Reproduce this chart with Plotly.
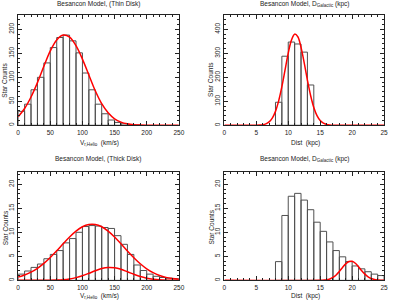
import plotly.graph_objects as go

W, H = 393, 303

# ---------------- data ----------------
# Top-left: thin disk radial velocity histogram (10 km/s bins, left edges)
tl_bins = [0, 10, 20, 30, 40, 50, 60, 70, 80, 90, 100, 110, 120, 130, 140, 150, 160, 170, 180]
tl_counts = [29, 44, 74, 100, 130, 162, 183, 188, 176, 151, 109, 74, 44, 24, 11, 6, 3, 1.5, 0.5]
tl_fit_x = [0, 10, 20, 30, 40, 50, 60, 70, 80, 90, 100, 110, 120, 130, 140, 150, 160, 170, 180, 190, 200, 210, 250]
tl_fit_y = [18, 35, 59, 89, 123, 155, 178, 188, 184, 166, 138, 105, 72, 45, 26, 13.5, 6.6, 3.0, 1.2, 0.45, 0.15, 0.05, 0]

# Top-right: thin disk distance histogram (1 kpc bins)
tr_bins = [8, 9, 10, 11, 12, 13]
tr_counts = [96, 288, 347, 339, 305, 168]
tr_fit_x = [0, 5, 5.5, 6, 6.5, 7, 7.5, 8, 8.5, 9, 9.5, 10, 10.5, 11, 11.5, 12, 12.5, 13, 13.5, 14,
            14.5, 15, 15.5, 16, 16.5, 17, 25]
tr_fit_y = [0, 0.3, 0.8, 2.4, 6.1, 14, 30, 58, 102, 161, 231, 301, 355, 380, 369, 325, 260, 188, 124, 74,
            40, 19.5, 8.7, 3.5, 1.3, 0.4, 0]

# Bottom-left: thick disk radial velocity histogram
bl_bins = [0, 10, 20, 30, 40, 50, 60, 70, 80, 90, 100, 110, 120, 130, 140, 150, 160, 170, 180, 190,
           200, 210, 220, 230, 240]
bl_counts = [1.3, 1.95, 2.7, 3.4, 4.5, 5.4, 6.2, 7.8, 8.7, 10.0, 11.2, 11.4, 11.3, 11.0, 10.8, 9.3,
             7.5, 5.4, 3.2, 2.05, 1.3, 0.85, 0.6, 0.45, 0.35]
bl_fit1_x = [0, 10, 20, 30, 40, 50, 60, 70, 80, 90, 100, 110, 120, 130, 140, 150, 160, 170, 180, 190,
             200, 210, 220, 230, 240, 250]
bl_fit1_y = [0.7, 1.12, 1.72, 2.52, 3.54, 4.77, 6.15, 7.61, 9.02, 10.24, 11.15, 11.64, 11.64, 11.15,
             10.24, 9.02, 7.61, 6.1, 4.7, 3.45, 2.4, 1.6, 1.02, 0.62, 0.38, 0.22]
bl_fit2_x = [0, 40, 50, 60, 70, 80, 90, 100, 110, 120, 130, 140, 150, 160, 170, 180, 190, 200, 210,
             220, 230, 240, 250]
bl_fit2_y = [0, 0.01, 0.02, 0.06, 0.14, 0.30, 0.57, 0.97, 1.47, 2.01, 2.46, 2.69, 2.63, 2.30, 1.80,
             1.26, 0.79, 0.46, 0.24, 0.11, 0.05, 0.02, 0.01]

# Bottom-right: thick disk distance histogram
br_bins = [8, 9, 10, 11, 12, 13, 14, 15, 16, 17, 18, 19, 20, 21, 22, 23, 24]
br_counts = [3.9, 13.5, 17.5, 18.1, 16.7, 14.7, 12.1, 10.2, 8.0, 6.2, 4.9, 3.9, 3.0, 2.4, 1.8, 1.3, 1.0]
br_fit_x = [0, 15, 15.5, 16, 16.5, 17, 17.5, 18, 18.5, 19, 19.5, 20, 20.5, 21, 21.5, 22, 22.5, 23,
            23.5, 24, 24.5, 25]
br_fit_y = [0, 0, 0.05, 0.13, 0.30, 0.62, 1.13, 1.85, 2.68, 3.44, 3.92, 3.96, 3.56, 2.84, 2.01, 1.30,
            0.75, 0.38, 0.17, 0.07, 0.02, 0]

titles = ["Besancon Model, (Thin Disk)", "Besancon Model, D<sub>Galactic</sub> (kpc)",
          "Besancon Model, (Thick Disk)", "Besancon Model, D<sub>Galactic</sub> (kpc)"]
xtitles = ["V<sub>r,Helio</sub>  (km/s)", "Dist  (kpc)", "V<sub>r,Helio</sub>  (km/s)", "Dist  (kpc)"]
ytitle = "Star Counts"

# ---------------- layout geometry (pixels) ----------------
FONT = "Liberation Sans, Arial, sans-serif"
TXT = "#222222"
BAR_LINE = "#505050"
RED = "#ff0000"

panels = [
    # (x0, x1, ytop, ybot) in pixels
    (16.5, 180.5, 15.0, 125.7),
    (227.0, 390.0, 15.0, 125.7),
    (16.5, 180.5, 172.3, 281.3),
    (227.0, 390.0, 172.3, 281.3),
]

fig = go.Figure()

def bar_trace(xb, yc, width, ax):
    return go.Bar(x=xb, y=yc, width=width, offset=0,
                  marker=dict(color="rgba(255,255,255,0)", line=dict(color=BAR_LINE, width=1)),
                  xaxis="x" + ax, yaxis="y" + ax, showlegend=False, hoverinfo="skip")

def fit_trace(xf, yf, ax):
    return go.Scatter(x=xf, y=yf, mode="lines", line=dict(color=RED, width=1.5, shape="spline", smoothing=1.0),
                      xaxis="x" + ax, yaxis="y" + ax, showlegend=False, hoverinfo="skip")

fig.add_trace(bar_trace(tl_bins, tl_counts, 10, ""))
fig.add_trace(fit_trace(tl_fit_x, tl_fit_y, ""))
fig.add_trace(bar_trace(tr_bins, tr_counts, 1, "2"))
fig.add_trace(fit_trace(tr_fit_x, tr_fit_y, "2"))
fig.add_trace(bar_trace(bl_bins, bl_counts, 10, "3"))
fig.add_trace(fit_trace(bl_fit1_x, bl_fit1_y, "3"))
fig.add_trace(fit_trace(bl_fit2_x, bl_fit2_y, "3"))
fig.add_trace(bar_trace(br_bins, br_counts, 1, "4"))
fig.add_trace(fit_trace(br_fit_x, br_fit_y, "4"))

axcfg = [
    # xrange, xdtick, xminor, yrange, ydtick, yminor
    ([0, 250], 50, 10, [0, 230], 50, 10),
    ([0, 25], 5, 1, [0, 460], 100, 20),
    ([0, 250], 50, 10, [0, 22.6], 5, 1),
    ([0, 25], 5, 1, [0, 22.6], 5, 1),
]

common = dict(showline=True, linecolor="#222222", linewidth=1, mirror="allticks",
              ticks="inside", ticklen=4, tickcolor="#222222", tickwidth=1,
              showgrid=False, zeroline=False,
              tickfont=dict(family=FONT, size=6.5, color=TXT))

layout = dict(width=W, height=H, margin=dict(l=0, r=0, t=0, b=0),
              paper_bgcolor="white", plot_bgcolor="white", barmode="overlay",
              font=dict(family=FONT, color=TXT))

annotations = []
for i, ((x0, x1, yt, yb), (xr, xd, xm, yr, yd, ym)) in enumerate(zip(panels, axcfg)):
    suf = "" if i == 0 else str(i + 1)
    xdom = [x0 / W, x1 / W]
    ydom = [1 - yb / H, 1 - yt / H]
    layout["xaxis" + suf] = dict(common, domain=xdom, range=xr, dtick=xd, tick0=0,
                                 anchor="y" + suf, ticklabelstandoff=1,
                                 minor=dict(ticks="inside", dtick=xm, ticklen=2, tickcolor="#222222"))
    layout["yaxis" + suf] = dict(common, domain=ydom, range=yr, dtick=yd, tick0=0,
                                 anchor="x" + suf, tickangle=-90, ticklabelstandoff=1,
                                 minor=dict(ticks="inside", dtick=ym, ticklen=2, tickcolor="#222222"))
    cx = (x0 + x1) / 2
    top = i < 2
    annotations.append(dict(text=titles[i], x=cx / W, y=1 - ((4.5 if top else 159.5) / H),
                            xref="paper", yref="paper", showarrow=False, xanchor="center", yanchor="middle",
                            font=dict(family=FONT, size=6.5, color=TXT)))
    annotations.append(dict(text=xtitles[i], x=(cx + 1) / W, y=1 - ((143.5 if top else 296.5) / H),
                            xref="paper", yref="paper", showarrow=False, xanchor="center", yanchor="middle",
                            font=dict(family=FONT, size=6.5, color=TXT)))
    annotations.append(dict(text=ytitle, x=(x0 - 13.5) / W, y=1 - ((80 if top else 228) / H),
                            xref="paper", yref="paper", showarrow=False, xanchor="center", yanchor="middle",
                            textangle=-90, font=dict(family=FONT, size=6.5, color=TXT)))

layout["annotations"] = annotations
fig.update_layout(**layout)

fig.write_html("out.html", config={"displayModeBar": False, "staticPlot": True},
               post_script="document.body.style.margin='0';document.body.style.padding='0';")
